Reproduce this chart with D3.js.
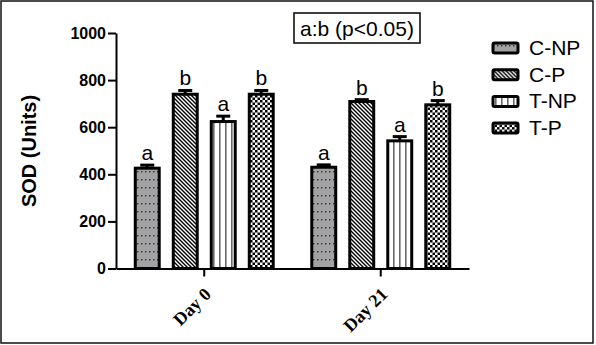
<!DOCTYPE html>
<html>
<head>
<meta charset="utf-8">
<script src="https://d3js.org/d3.v7.min.js"></script>
<style>
  body { margin: 0; background: #fff; }
  svg { display: block; }
</style>
</head>
<body>
<svg id="chart" width="596" height="345"></svg>
<script>
// data
const days = ["Day 0", "Day 21"];
const groups = ["C-NP", "C-P", "T-NP", "T-P"];
const cnp = [426, 430];
const cp = [740, 709];
const tnp = [624, 542];
const tp = [740, 695];
const cnpErr = [13, 10];
const cpErr = [16, 8];
const tnpErr = [23, 18];
const tpErr = [16, 18];
const sigLetters = ["a", "b", "a", "b"];
const yTicks = [0, 200, 400, 600, 800, 1000];
const note = "a:b (p<0.05)";

const seriesVals = [cnp, cp, tnp, tp];
const seriesErr = [cnpErr, cpErr, tnpErr, tpErr];

const svg = d3.select("#chart");
const sans = "Arial, 'Liberation Sans', sans-serif";

// outer frame
svg.append("rect")
  .attr("x", 1).attr("y", 1).attr("width", 592).attr("height", 342)
  .attr("fill", "none").attr("stroke", "#111").attr("stroke-width", 1.5);

// fill patterns
const defs = svg.append("defs");

let p = defs.append("pattern").attr("id", "pat-cnp")
  .attr("patternUnits", "userSpaceOnUse").attr("width", 4).attr("height", 8);
p.append("rect").attr("width", 4).attr("height", 8).attr("fill", "#a2a2a4");
p.append("rect").attr("x", 1).attr("y", 3).attr("width", 1.5).attr("height", 1.5).attr("fill", "#3a3a3a");

p = defs.append("pattern").attr("id", "pat-cp")
  .attr("patternUnits", "userSpaceOnUse").attr("width", 4).attr("height", 4);
p.append("rect").attr("width", 4).attr("height", 4).attr("fill", "#fff");
p.append("path").attr("d", "M-1,-1 L5,5 M-1,3 L1,5 M3,-1 L5,1")
  .attr("stroke", "#000").attr("stroke-width", 1.4);

p = defs.append("pattern").attr("id", "pat-tnp")
  .attr("patternUnits", "userSpaceOnUse").attr("width", 6).attr("height", 6);
p.append("rect").attr("width", 6).attr("height", 6).attr("fill", "#fff");
p.append("rect").attr("x", 3).attr("width", 1.6).attr("height", 6).attr("fill", "#6a6a6a");

p = defs.append("pattern").attr("id", "pat-tp")
  .attr("patternUnits", "userSpaceOnUse").attr("width", 5).attr("height", 5);
p.append("rect").attr("width", 5).attr("height", 5).attr("fill", "#fff");
p.append("rect").attr("width", 2.5).attr("height", 2.5).attr("fill", "#000");
p.append("rect").attr("x", 2.5).attr("y", 2.5).attr("width", 2.5).attr("height", 2.5).attr("fill", "#000");

const fills = ["url(#pat-cnp)", "url(#pat-cp)", "url(#pat-tnp)", "url(#pat-tp)"];

// scales
const y = d3.scaleLinear().domain([0, 1000]).range([268.5, 33]);
const x0 = d3.scaleBand().domain(days).range([116, 469]).padding(0);
const x1 = d3.scaleBand().domain(groups).range([-76, 76]).paddingInner(0.37).paddingOuter(0.185);

// y axis
const yAxis = svg.append("g")
  .attr("transform", "translate(116,0)")
  .call(d3.axisLeft(y).tickValues(yTicks).tickFormat(d3.format("d"))
    .tickSize(8).tickPadding(2).tickSizeOuter(0));
yAxis.select(".domain").attr("stroke", "#000").attr("stroke-width", 2);
yAxis.selectAll(".tick line").attr("stroke", "#000").attr("stroke-width", 2);
yAxis.selectAll(".tick text")
  .attr("font-family", sans)
  .attr("font-weight", "bold").attr("font-size", 16).attr("fill", "#000");

// x axis
const xAxis = svg.append("g")
  .attr("transform", "translate(0," + y(0) + ")")
  .call(d3.axisBottom(x0).tickSize(8).tickSizeOuter(0));
xAxis.select(".domain").attr("stroke", "#000").attr("stroke-width", 2);
xAxis.selectAll(".tick line").attr("stroke", "#000").attr("stroke-width", 2);
xAxis.selectAll(".tick text")
  .attr("font-family", "'Times New Roman', 'Liberation Serif', serif")
  .attr("font-weight", "bold").attr("font-size", 18).attr("fill", "#000")
  .attr("text-anchor", "end")
  .attr("dy", null)
  .attr("transform", "translate(0,19) rotate(-45)");

// y label
svg.append("text")
  .attr("transform", "translate(36,151) rotate(-90)")
  .attr("text-anchor", "middle")
  .attr("font-family", sans)
  .attr("font-weight", "bold").attr("font-size", 20)
  .text("SOD (Units)");

// bars
const rows = [];
groups.forEach((g, gi) => {
  days.forEach((d, di) => {
    rows.push({ g, gi, d, v: seriesVals[gi][di], e: seriesErr[gi][di], letter: sigLetters[gi] });
  });
});

const cx = r => x0(r.d) + x0.bandwidth() / 2 + x1(r.g) + x1.bandwidth() / 2;

const bars = svg.append("g");
// error bars first, behind the bar top
bars.selectAll("line.err").data(rows).join("line")
  .attr("class", "err")
  .attr("x1", cx).attr("x2", cx)
  .attr("y1", r => y(r.v)).attr("y2", r => y(r.v + r.e))
  .attr("stroke", "#000").attr("stroke-width", 3);
bars.selectAll("line.cap").data(rows).join("line")
  .attr("class", "cap")
  .attr("x1", r => cx(r) - 7).attr("x2", r => cx(r) + 7)
  .attr("y1", r => y(r.v + r.e)).attr("y2", r => y(r.v + r.e))
  .attr("stroke", "#000").attr("stroke-width", 3);
bars.selectAll("rect").data(rows).join("rect")
  .attr("x", r => cx(r) - x1.bandwidth() / 2)
  .attr("width", x1.bandwidth())
  .attr("y", r => y(r.v))
  .attr("height", r => y(0) - y(r.v))
  .attr("fill", r => fills[r.gi])
  .attr("stroke", "#000").attr("stroke-width", 3);
bars.selectAll("text").data(rows).join("text")
  .attr("x", cx)
  .attr("y", r => y(r.v + r.e) - 5)
  .attr("text-anchor", "middle")
  .attr("font-family", sans)
  .attr("font-size", 21)
  .text(r => r.letter);

// note box
svg.append("rect")
  .attr("x", 294).attr("y", 13).attr("width", 126).attr("height", 30)
  .attr("fill", "#fff").attr("stroke", "#000").attr("stroke-width", 1.5);
svg.append("text")
  .attr("x", 357).attr("y", 36)
  .attr("text-anchor", "middle")
  .attr("font-family", sans)
  .attr("font-size", 21)
  .text(note);

// legend
const legend = svg.append("g").attr("transform", "translate(492,42)");
const li = legend.selectAll("g").data(groups).join("g")
  .attr("transform", (d, i) => "translate(0," + i * 26.7 + ")");
li.append("rect")
  .attr("x", 1).attr("y", 1).attr("width", 25).attr("height", 10)
  .attr("rx", 1.5)
  .attr("fill", (d, i) => fills[i])
  .attr("stroke", "#000").attr("stroke-width", 3);
li.append("text")
  .attr("x", 37).attr("y", 13)
  .attr("font-family", sans)
  .attr("font-size", 21)
  .text(d => d);
</script>
</body>
</html>
